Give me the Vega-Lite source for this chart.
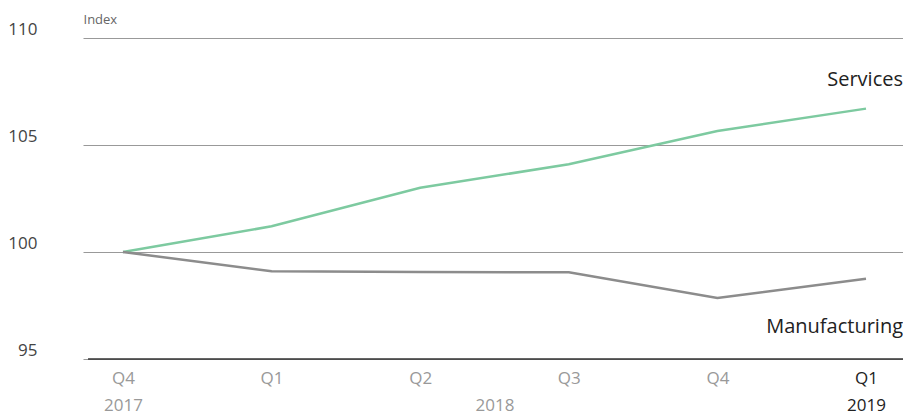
{
  "$schema": "https://vega.github.io/schema/vega-lite/v6.json",
  "autosize": "none",
  "width": 820,
  "height": 321,
  "padding": {"left": 83, "top": 38, "right": 0, "bottom": 56},
  "background": "white",
  "config": {"view": {"stroke": null}, "font": "Open Sans"},
  "datasets": {
    "lines": [
      {"i": 0, "q": "Q4 2017", "series": "Services", "value": 100},
      {"i": 1, "q": "Q1 2018", "series": "Services", "value": 101.2},
      {"i": 2, "q": "Q2 2018", "series": "Services", "value": 103.0},
      {"i": 3, "q": "Q3 2018", "series": "Services", "value": 104.1},
      {"i": 4, "q": "Q4 2018", "series": "Services", "value": 105.65},
      {"i": 5, "q": "Q1 2019", "series": "Services", "value": 106.7},
      {"i": 0, "q": "Q4 2017", "series": "Manufacturing", "value": 100},
      {"i": 1, "q": "Q1 2018", "series": "Manufacturing", "value": 99.1},
      {"i": 2, "q": "Q2 2018", "series": "Manufacturing", "value": 99.07},
      {"i": 3, "q": "Q3 2018", "series": "Manufacturing", "value": 99.05},
      {"i": 4, "q": "Q4 2018", "series": "Manufacturing", "value": 97.85},
      {"i": 5, "q": "Q1 2019", "series": "Manufacturing", "value": 98.75}
    ],
    "labels": [
      {"i": 5.249, "value": 108.04, "label": "Services"},
      {"i": 5.249, "value": 96.5, "label": "Manufacturing"}
    ],
    "base": [
      {"x1": -0.235, "x2": 5.249, "value": 95}
    ]
  },
  "layer": [
    {
      "data": {"name": "lines"},
      "mark": {"type": "line", "strokeWidth": 2.5},
      "encoding": {
        "x": {
          "field": "i", "type": "quantitative",
          "scale": {"domain": [-0.269, 5.249], "nice": false, "zero": false},
          "axis": {
            "values": [0, 1, 2, 2.5, 3, 4, 5],
            "labelExpr": "datum.value == 0 ? ['Q4', '2017'] : datum.value == 1 ? 'Q1' : datum.value == 2 ? 'Q2' : datum.value == 2.5 ? ['', '2018'] : datum.value == 3 ? 'Q3' : datum.value == 4 ? 'Q4' : ['Q1', '2019']",
            "title": null,
            "grid": false,
            "ticks": false,
            "domain": false,
            "labelFontSize": 17,
            "labelLineHeight": 27,
            "labelBaseline": "top",
            "labelPadding": 11,
            "labelFlush": false,
            "labelOverlap": false,
            "labelColor": {"condition": {"test": "datum.value == 5", "value": "#222"}, "value": "#999"}
          }
        },
        "y": {
          "field": "value", "type": "quantitative",
          "scale": {"domain": [95, 110], "nice": false, "zero": false},
          "axis": {
            "values": [95, 100, 105, 110],
            "title": "Index",
            "titleAngle": 0,
            "titleAlign": "left",
            "titleBaseline": "bottom",
            "titleX": 0,
            "titleY": -12,
            "titleFontSize": 13,
            "titleFontWeight": "normal",
            "titleColor": "#666",
            "domain": false,
            "ticks": false,
            "grid": true,
            "gridColor": "#999",
            "gridWidth": 1,
            "labelAlign": "right",
            "labelBaseline": "bottom",
            "labelPadding": 46,
            "labelFontSize": 17,
            "labelColor": "#444"
          }
        },
        "color": {
          "field": "series", "type": "nominal",
          "scale": {"domain": ["Services", "Manufacturing"], "range": ["#7dcaa0", "#8c8c8c"]},
          "legend": null
        }
      }
    },
    {
      "data": {"name": "base"},
      "mark": {"type": "rule", "color": "#333", "strokeWidth": 1.3},
      "encoding": {
        "x": {"field": "x1", "type": "quantitative"},
        "x2": {"field": "x2"},
        "y": {"field": "value", "type": "quantitative"}
      }
    },
    {
      "data": {"name": "labels"},
      "mark": {"type": "text", "align": "right", "baseline": "middle", "fontSize": 20, "color": "#222"},
      "encoding": {
        "x": {"field": "i", "type": "quantitative"},
        "y": {"field": "value", "type": "quantitative"},
        "text": {"field": "label"}
      }
    }
  ]
}
